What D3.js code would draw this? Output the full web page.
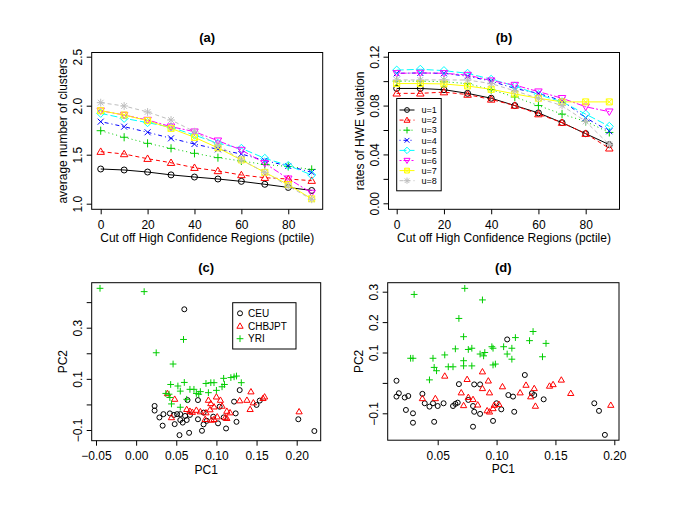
<!DOCTYPE html>
<html><head><meta charset="utf-8">
<script src="https://cdnjs.cloudflare.com/ajax/libs/d3/7.8.5/d3.min.js"></script>
<style>
body{margin:0;background:#fff}
svg{display:block}
text{font-family:"Liberation Sans",Arial,Helvetica,sans-serif;fill:#000}
</style>
</head><body>
<svg id="chart" width="685" height="508"></svg>
<script>
// ---------------- DATA ----------------
const cutoffs = [0, 10, 20, 30, 40, 50, 60, 70, 80, 90];
const seriesNames = ["u=1","u=2","u=3","u=4","u=5","u=6","u=7","u=8"];
const seriesColors = ["#000000","#FF0000","#00CD00","#0000FF","#00FFFF","#FF00FF","#FFFF00","#BEBEBE"];

// (a) average number of clusters
const clustersU1 = [1.354,1.344,1.323,1.294,1.272,1.252,1.228,1.198,1.166,1.135];
const clustersU2 = [1.531,1.507,1.459,1.418,1.367,1.334,1.293,1.265,1.252,1.235];
const clustersU3 = [1.745,1.678,1.616,1.565,1.514,1.470,1.436,1.400,1.380,1.350];
const clustersU4 = [1.837,1.786,1.729,1.667,1.609,1.555,1.507,1.440,1.385,1.320];
const clustersU5 = [1.922,1.871,1.827,1.780,1.700,1.616,1.565,1.463,1.390,1.293];
const clustersU6 = [1.949,1.905,1.854,1.786,1.735,1.643,1.548,1.412,1.255,1.110];
const clustersU7 = [1.949,1.905,1.847,1.769,1.677,1.570,1.446,1.320,1.195,1.050];
const clustersU8 = [2.031,1.997,1.936,1.854,1.735,1.599,1.446,1.320,1.180,1.045];

// (b) rates of HWE violation
const hweU1 = [0.094,0.094,0.093,0.090,0.086,0.080,0.074,0.066,0.057,0.048];
const hweU2 = [0.090,0.090,0.091,0.089,0.085,0.080,0.073,0.066,0.057,0.045];
const hweU3 = [0.100,0.100,0.0995,0.098,0.093,0.087,0.080,0.073,0.067,0.058];
const hweU4 = [0.1064,0.1067,0.1064,0.104,0.100,0.094,0.090,0.084,0.070,0.059];
const hweU5 = [0.109,0.1097,0.1086,0.1064,0.1015,0.096,0.089,0.083,0.073,0.063];
const hweU6 = [0.1064,0.1067,0.1064,0.105,0.1004,0.0968,0.0914,0.086,0.079,0.075];
const hweU7 = [0.098,0.098,0.0977,0.096,0.0933,0.0895,0.086,0.083,0.083,0.083];
const hweU8 = [0.101,0.101,0.101,0.1009,0.098,0.092,0.086,0.080,0.067,0.048];

// (c) PCA [PC1, PC2]
const groupNames = ["CEU","CHBJPT","YRI"];
const ceuC = [[0.129,0.056],[0.064,0.017],[0.077,0.017],[0.122,0.011],[0.150,-0.002],[0.154,0.015],[0.023,-0.006],[0.023,-0.024],[0.029,-0.051],[0.034,-0.038],[0.033,-0.083],[0.048,-0.077],[0.051,-0.038],[0.055,-0.038],[0.055,-0.061],[0.061,-0.045],[0.063,-0.061],[0.067,-0.041],[0.077,-0.058],[0.084,-0.032],[0.088,-0.064],[0.084,-0.078],[0.082,-0.103],[0.054,-0.120],[0.066,-0.111],[0.102,-0.074],[0.109,-0.051],[0.112,-0.094],[0.124,-0.035],[0.125,-0.068],[0.202,-0.058],[0.222,-0.104],[0.042,-0.035],[0.060,0.372],[0.104,-0.009],[0.096,-0.048],[0.058,-0.071],[0.047,-0.041]];
const chbC = [[0.039,0.043],[0.048,0.021],[0.063,-0.019],[0.067,-0.026],[0.075,-0.022],[0.080,-0.028],[0.087,-0.032],[0.090,0.017],[0.093,0.004],[0.097,-0.009],[0.100,0.030],[0.105,0.017],[0.107,-0.006],[0.113,-0.026],[0.117,-0.032],[0.129,0.015],[0.138,0.017],[0.143,0.050],[0.146,0.007],[0.142,-0.019],[0.158,0.024],[0.160,0.030],[0.203,-0.028],[0.044,-0.051],[0.086,-0.058],[0.094,-0.061],[0.097,-0.058],[0.101,-0.048],[0.111,-0.051],[0.113,-0.054],[0.070,-0.030],[0.092,-0.020]];
const yriC = [[-0.045,0.454],[0.010,0.441],[0.059,0.254],[0.025,0.202],[0.046,0.158],[0.043,0.078],[0.060,0.086],[0.037,0.043],[0.041,0.040],[0.055,0.052],[0.067,0.059],[0.072,0.059],[0.075,0.043],[0.080,0.050],[0.087,0.082],[0.093,0.085],[0.097,0.085],[0.090,0.046],[0.107,0.069],[0.109,0.102],[0.110,0.078],[0.118,0.105],[0.122,0.108],[0.125,0.111],[0.131,0.085],[0.044,0.002],[0.055,-0.011],[0.063,0.020],[0.042,0.027],[0.078,0.040],[0.100,0.055],[0.052,0.072]];

// (d) PCA [PC1, PC2]
const ceuD = [[0.109,0.143],[0.124,0.026],[0.015,0.007],[0.068,-0.004],[0.081,-0.005],[0.086,-0.005],[0.017,-0.034],[0.015,-0.045],[0.022,-0.048],[0.025,-0.043],[0.037,-0.036],[0.039,-0.067],[0.043,-0.078],[0.046,-0.067],[0.050,-0.076],[0.055,-0.067],[0.063,-0.076],[0.065,-0.069],[0.067,-0.065],[0.076,-0.056],[0.080,-0.076],[0.081,-0.095],[0.086,-0.102],[0.023,-0.089],[0.029,-0.100],[0.029,-0.131],[0.047,-0.128],[0.080,-0.144],[0.097,-0.125],[0.100,-0.067],[0.104,-0.087],[0.110,-0.040],[0.114,-0.045],[0.115,-0.095],[0.130,-0.034],[0.132,-0.040],[0.140,-0.054],[0.183,-0.067],[0.187,-0.092],[0.192,-0.171]];
const chbD = [[0.056,0.023],[0.088,0.037],[0.075,0.012],[0.093,0.007],[0.070,-0.032],[0.088,-0.018],[0.094,-0.032],[0.105,-0.012],[0.125,-0.007],[0.120,-0.032],[0.132,-0.018],[0.129,-0.045],[0.145,-0.010],[0.148,-0.005],[0.155,0.010],[0.163,-0.034],[0.133,-0.076],[0.197,-0.073],[0.037,-0.051],[0.048,-0.051],[0.072,-0.074],[0.076,-0.047],[0.080,-0.054],[0.084,-0.072],[0.092,-0.091],[0.094,-0.095],[0.097,-0.084],[0.098,-0.073],[0.102,-0.070]];
const yriD = [[0.073,0.311],[0.030,0.291],[0.088,0.273],[0.068,0.212],[0.072,0.152],[0.131,0.169],[0.116,0.149],[0.128,0.139],[0.142,0.130],[0.065,0.112],[0.076,0.110],[0.079,0.114],[0.096,0.119],[0.097,0.114],[0.106,0.119],[0.113,0.114],[0.056,0.092],[0.086,0.095],[0.090,0.100],[0.089,0.089],[0.109,0.095],[0.113,0.078],[0.139,0.086],[0.027,0.081],[0.029,0.081],[0.046,0.081],[0.072,0.073],[0.047,0.051],[0.049,0.040],[0.059,0.053],[0.063,0.053],[0.072,0.056],[0.079,0.056],[0.097,0.059],[0.099,0.062],[0.043,0.010]];

// axis ticks / labels
const ticksA_x = [0,20,40,60,80];
const ticksA_y = [1.0,1.5,2.0,2.5];
const ticksB_y = [0,0.02,0.04,0.06,0.08,0.10,0.12];
const labelsB_y = [0,0.04,0.08,0.12];
const ticksC_x = [-0.05,0,0.05,0.10,0.15,0.20];
const ticksC_y = [-0.1,0,0.1,0.2,0.3,0.4];
const labelsC_y = [-0.1,0.1,0.3];
const ticksD_x = [0.05,0.10,0.15,0.20];
const ticksD_y = [-0.1,0,0.1,0.2,0.3];
const labelsD_y = [-0.1,0.1,0.2,0.3];

// ---------------- DRAWING ----------------
const svg = d3.select("#chart");
svg.append("rect").attr("width",685).attr("height",508).attr("fill","#fff");

const dashes = ["", "4,3", "1,3", "1,3,4,3", "7,3", "2,2,6,2", "", "4,3"];
const pchs = [1,2,3,4,5,6,7,8];

function markerPath(pch, s){
  switch(pch){
    case 1: return `M${-s},0a${s},${s} 0 1,0 ${2*s},0a${s},${s} 0 1,0 ${-2*s},0`;
    case 2: { const h=s*1.25; return `M0,${-h}L${h*1.0},${h*0.72}L${-h*1.0},${h*0.72}Z`; }
    case 3: { const l=s*1.35; return `M${-l},0H${l}M0,${-l}V${l}`; }
    case 4: { const l=s; return `M${-l},${-l}L${l},${l}M${-l},${l}L${l},${-l}`; }
    case 5: { const l=s*1.35; return `M0,${-l}L${l},0L0,${l}L${-l},0Z`; }
    case 6: { const h=s*1.25; return `M0,${h}L${h},${-h*0.72}L${-h},${-h*0.72}Z`; }
    case 7: { const l=s; return `M${-l},${-l}H${l}V${l}H${-l}ZM${-l},${-l}L${l},${l}M${-l},${l}L${l},${-l}`; }
    case 8: { const l=s*1.3, m=s*0.95; return `M${-l},0H${l}M0,${-l}V${l}M${-m},${-m}L${m},${m}M${-m},${m}L${m},${-m}`; }
  }
}

function panel(cfg){
  const g = svg.append("g");
  const x = d3.scaleLinear().domain(cfg.xd).range(cfg.xr);
  const y = d3.scaleLinear().domain(cfg.yd).range(cfg.yr);
  const b = cfg.box;
  // bottom axis
  const ax = g.append("g").attr("transform",`translate(0,${b.y1})`)
    .call(d3.axisBottom(x).tickValues(cfg.xticks).tickSize(5).tickPadding(3).tickSizeOuter(0)
      .tickFormat(cfg.xfmt));
  ax.select(".domain").remove();
  ax.selectAll("text").attr("font-size",12).attr("font-family",null).attr("fill","#000").attr("dy","0.95em");
  ax.selectAll("line").attr("stroke","#000");
  // left axis
  const ay = g.append("g").attr("transform",`translate(${b.x0},0)`)
    .call(d3.axisLeft(y).tickValues(cfg.yticks).tickSize(5).tickSizeOuter(0)
      .tickFormat(d => cfg.ylabels.some(v => Math.abs(v-d)<1e-9) ? cfg.yfmt(d) : ""));
  ay.select(".domain").remove();
  ay.selectAll("line").attr("stroke","#000");
  ay.selectAll("text").attr("font-size",12).attr("font-family",null).attr("fill","#000")
    .attr("x",null).attr("dy",null).attr("text-anchor","middle")
    .attr("transform","translate(-10,0) rotate(-90)");
  // box
  g.append("rect").attr("x",b.x0).attr("y",b.y0).attr("width",b.x1-b.x0).attr("height",b.y1-b.y0)
    .attr("fill","none").attr("stroke","#000").attr("stroke-width",1);
  // titles
  const cx = (b.x0+b.x1)/2, cy=(b.y0+b.y1)/2;
  g.append("text").attr("x",cx).attr("y",b.y0-10.5).attr("text-anchor","middle")
    .attr("font-size",13).attr("font-weight","bold").text(cfg.title);
  g.append("text").attr("x",cx).attr("y",b.y1+33).attr("text-anchor","middle")
    .attr("font-size",12).text(cfg.xlab);
  g.append("text").attr("transform",`translate(${b.x0-25},${cy}) rotate(-90)`).attr("text-anchor","middle")
    .attr("font-size",12).text(cfg.ylab);
  return {g,x,y};
}

function linePanel(cfg, series){
  const {g,x,y} = panel(cfg);
  const line = d3.line().x((d,i)=>x(cutoffs[i])).y(d=>y(d));
  series.forEach((vals,k)=>{
    g.append("path").attr("d",line(vals)).attr("fill","none").attr("stroke",seriesColors[k])
      .attr("stroke-width",1).attr("stroke-dasharray",dashes[k]||null);
  });
  series.forEach((vals,k)=>{
    g.selectAll(null).data(vals).enter().append("path")
      .attr("d",markerPath(pchs[k],3))
      .attr("transform",(d,i)=>`translate(${x(cutoffs[i])},${y(d)})`)
      .attr("fill","none").attr("stroke",seriesColors[k]).attr("stroke-width",1);
  });
  return g;
}

function scatterPanel(cfg, groups){
  const {g,x,y} = panel(cfg);
  const cols = ["#000000","#FF0000","#00CD00"];
  const pp = [1,2,3];
  groups.forEach((pts,k)=>{
    g.selectAll(null).data(pts).enter().append("path")
      .attr("d",markerPath(pp[k],2.5))
      .attr("transform",d=>`translate(${x(d[0])},${y(d[1])})`)
      .attr("fill","none").attr("stroke",cols[k]).attr("stroke-width",1);
  });
  return g;
}

const fmt2 = d3.format(".2f"), fmt1 = d3.format(".1f"), fmt0 = d3.format("d");
const fmtSigned = f => (d => f(d).replace("-","\u2212"));

// (a)
const gA = linePanel({
  title:"(a)", xlab:"Cut off High Confidence Regions (pctile)", ylab:"average number of clusters",
  box:{x0:91.7,x1:322.7,y0:52.5,y1:209.3},
  xd:[0,90], xr:[100.7,311.7], yd:[1.0,2.5], yr:[203.7,56.7],
  xticks:ticksA_x, yticks:ticksA_y, ylabels:ticksA_y, xfmt:fmt0, yfmt:fmt1
},[clustersU1,clustersU2,clustersU3,clustersU4,clustersU5,clustersU6,clustersU7,clustersU8]);

// (b)
const gB = linePanel({
  title:"(b)", xlab:"Cut off High Confidence Regions (pctile)", ylab:"rates of HWE violation",
  box:{x0:388.5,x1:619.5,y0:52.5,y1:209.3},
  xd:[0,90], xr:[396.7,609.3], yd:[0,0.12], yr:[203.3,56.7],
  xticks:ticksA_x, yticks:ticksB_y, ylabels:labelsB_y, xfmt:fmt0, yfmt:fmt2
},[hweU1,hweU2,hweU3,hweU4,hweU5,hweU6,hweU7,hweU8]);

// legend (b)
{
  const lg = gB.append("g");
  lg.append("rect").attr("x",396.7).attr("y",98.5).attr("width",44.5).attr("height",92.3)
    .attr("fill","#fff").attr("stroke","#000");
  seriesNames.forEach((nm,k)=>{
    const yy = 110 + k*10.1;
    lg.append("line").attr("x1",399.5).attr("x2",414.5).attr("y1",yy).attr("y2",yy)
      .attr("stroke",seriesColors[k]).attr("stroke-dasharray",dashes[k]||null);
    lg.append("path").attr("d",markerPath(pchs[k],2.4)).attr("transform",`translate(407,${yy})`)
      .attr("fill","none").attr("stroke",seriesColors[k]);
    lg.append("text").attr("x",421.5).attr("y",yy+3.2).attr("font-size",9).text(nm);
  });
}

// (c)
const gC = scatterPanel({
  title:"(c)", xlab:"PC1", ylab:"PC2",
  box:{x0:91.7,x1:320.7,y0:282.7,y1:440.7},
  xd:[-0.05,0.20], xr:[96,296.7], yd:[-0.1,0.3], yr:[430,327.7],
  xticks:ticksC_x, yticks:ticksC_y, ylabels:labelsC_y, xfmt:fmtSigned(fmt2), yfmt:fmtSigned(fmt1)
},[ceuC,chbC,yriC]);

// legend (c)
{
  const lg = gC.append("g");
  lg.append("rect").attr("x",232.7).attr("y",302.7).attr("width",63.3).attr("height",46.3)
    .attr("fill","#fff").attr("stroke","#000");
  const cols = ["#000000","#FF0000","#00CD00"];
  groupNames.forEach((nm,k)=>{
    const yy = 313.3 + k*12.7;
    lg.append("path").attr("d",markerPath(k+1,2.5)).attr("transform",`translate(240,${yy})`)
      .attr("fill","none").attr("stroke",cols[k]);
    lg.append("text").attr("x",248).attr("y",yy+3.6).attr("font-size",10).text(nm);
  });
}

// (d)
scatterPanel({
  title:"(d)", xlab:"PC1", ylab:"PC2",
  box:{x0:387.7,x1:619,y0:282.7,y1:440.2},
  xd:[0.05,0.20], xr:[437.7,614.3], yd:[-0.1,0.3], yr:[413.3,291.7],
  xticks:ticksD_x, yticks:ticksD_y, ylabels:labelsD_y, xfmt:fmt2, yfmt:fmtSigned(fmt1)
},[ceuD,chbD,yriD]);
</script>
</body></html>
